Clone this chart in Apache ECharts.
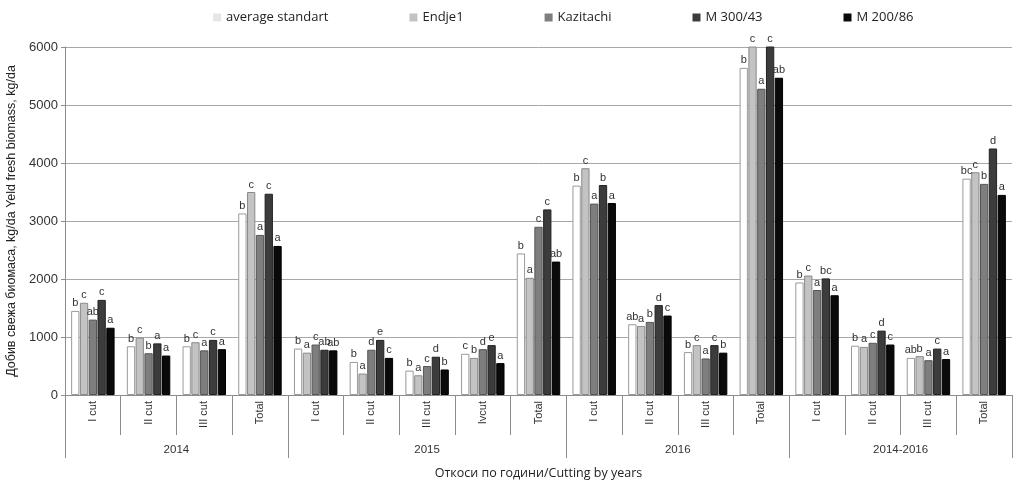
<!DOCTYPE html>
<html>
<head>
<meta charset="utf-8">
<script src="https://cdn.jsdelivr.net/npm/echarts@6/dist/echarts.min.js"></script>
<style>
    html, body { margin: 0; padding: 0; background: #fff; }
    #chart { width: 1022px; height: 482px; }
</style>
</head>
<body>
<div id="chart"></div>
<script>
// категории (откоси) и години
var cuts = ['I cut', 'II cut', 'III cut', 'Total',
    'I cut', 'II cut', 'III cut', 'Ivcut', 'Total',
    'I cut', 'II cut', 'III cut', 'Total',
    'I cut', 'II cut', 'III cut', 'Total'];
var years = ['2014', '2015', '2016', '2014-2016'];
var cutsPerYear = [4, 5, 4, 4];

var seriesNames = ['average standart', 'Endje1', 'Kazitachi', 'M 300/43', 'M 200/86'];

// добив, kg/da
var avgStandart = [1450, 840, 840, 3130, 800, 570, 420, 710, 2440, 3610, 1220, 740, 5640, 1940, 850, 640, 3730];
var endje1 = [1590, 990, 910, 3500, 730, 370, 340, 640, 2020, 3910, 1190, 860, 6030, 2060, 830, 670, 3840];
var kazitachi = [1300, 720, 770, 2760, 870, 780, 500, 790, 2900, 3300, 1260, 630, 5280, 1810, 900, 600, 3640];
var m300 = [1640, 890, 950, 3470, 780, 950, 660, 860, 3200, 3620, 1550, 860, 6110, 2010, 1110, 800, 4250];
var m200 = [1160, 680, 790, 2570, 770, 640, 440, 550, 2300, 3310, 1370, 730, 5470, 1720, 870, 620, 3450];

// буквени означения за достоверност
var lettersAvg = ['b', 'b', 'b', 'b', 'b', 'b', 'b', 'c', 'b', 'b', 'ab', 'b', 'b', 'b', 'b', 'ab', 'bc'];
var lettersEndje1 = ['c', 'c', 'c', 'c', 'a', 'a', 'a', 'b', 'a', 'c', 'a', 'c', 'c', 'c', 'a', 'b', 'c'];
var lettersKazitachi = ['ab', 'b', 'a', 'a', 'c', 'd', 'c', 'd', 'c', 'a', 'b', 'a', 'a', 'a', 'c', 'a', 'b'];
var lettersM300 = ['c', 'a', 'c', 'c', 'ab', 'e', 'd', 'e', 'c', 'b', 'd', 'c', 'c', 'bc', 'd', 'c', 'd'];
var lettersM200 = ['a', 'a', 'a', 'a', 'ab', 'c', 'b', 'a', 'ab', 'a', 'c', 'b', 'ab', 'a', 'c', 'a', 'a'];

var yTicks = { min: 0, max: 6000, interval: 1000 };

(function() {
    var values = [avgStandart, endje1, kazitachi, m300, m200];
    var letters = [lettersAvg, lettersEndje1, lettersKazitachi, lettersM300, lettersM200];
    var fills = ['#ffffff', '#c3c3c3', '#7e7e7e', '#3c3c3c', '#0a0a0a'];
    var borders = ['#9a9a9a', '#8a8a8a', '#555555', '#222222', '#000000'];
    var legendFills = ['#e6e6e6', '#c3c3c3', '#7e7e7e', '#3c3c3c', '#0a0a0a'];
    var axisColor = '#8c8c8c';

    // ос за годините: половин-стъпки, етикет в средата на групата
    var yearAxisData = [];
    var yearBounds = [0];
    var yearCenters = [];
    var pos = 0;
    for (var i = 0; i < cutsPerYear.length; i++) {
        yearCenters.push(pos + cutsPerYear[i]);
        pos += cutsPerYear[i] * 2;
        yearBounds.push(pos);
    }
    for (var k = 0; k <= pos; k++) {
        var idx = yearCenters.indexOf(k);
        yearAxisData.push(idx >= 0 ? years[idx] : '');
    }

    var series = [];
    for (var s = 0; s < values.length; s++) {
        (function(s) {
            series.push({
                type: 'bar',
                name: seriesNames[s],
                data: values[s],
                xAxisIndex: 0,
                barGap: '6%',
                barCategoryGap: '22%',
                itemStyle: {
                    color: fills[s],
                    borderColor: borders[s],
                    borderWidth: 1
                },
                label: {
                    show: true,
                    position: 'top',
                    distance: 2,
                    fontFamily: 'Liberation Sans',
                    fontSize: 11,
                    color: '#333',
                    formatter: function(p) {
                        return letters[s][p.dataIndex];
                    }
                }
            });
        })(s);
    }

    var legendData = [];
    for (var j = 0; j < seriesNames.length; j++) {
        legendData.push({
            name: seriesNames[j],
            icon: 'rect',
            itemStyle: { color: legendFills[j], borderWidth: 0 }
        });
    }

    var chart = echarts.init(document.getElementById('chart'));
    var option = {
        animation: false,
        backgroundColor: '#fff',
        legend: {
            data: legendData,
            top: 6,
            left: 208,
            itemWidth: 8,
            itemHeight: 8,
            itemGap: 81,
            textStyle: {
                fontFamily: 'Open Sans',
                fontSize: 13,
                color: '#222'
            }
        },
        grid: {
            left: 65,
            right: 10,
            top: 47,
            bottom: 87,
            containLabel: false,
            outerBoundsMode: 'none'
        },
        xAxis: [{
            type: 'category',
            data: cuts,
            position: 'bottom',
            axisLine: { show: true, lineStyle: { color: axisColor } },
            axisTick: {
                show: true,
                interval: 0,
                length: 40,
                lineStyle: { color: axisColor }
            },
            axisLabel: {
                interval: 0,
                rotate: 90,
                margin: 6,
                fontFamily: 'Liberation Sans',
                fontSize: 11,
                color: '#333'
            }
        }, {
            type: 'category',
            data: yearAxisData,
            position: 'bottom',
            boundaryGap: false,
            name: 'Откоси по години/Cutting by years',
            nameLocation: 'middle',
            nameGap: 72,
            nameTextStyle: {
                fontFamily: 'Open Sans',
                fontSize: 12.5,
                color: '#222'
            },
            axisLine: { show: false },
            axisTick: {
                show: true,
                length: 63,
                interval: function(index) {
                    return yearBounds.indexOf(index) >= 0;
                },
                lineStyle: { color: '#8d8d8d' }
            },
            axisLabel: {
                interval: 0,
                margin: 49,
                fontFamily: 'Liberation Sans',
                fontSize: 11.5,
                color: '#333'
            },
            splitLine: { show: false }
        }],
        yAxis: {
            type: 'value',
            min: yTicks.min,
            max: yTicks.max,
            interval: yTicks.interval,
            name: 'Добив свежа биомаса, kg/da Yeld fresh biomass, kg/da',
            nameLocation: 'middle',
            nameGap: 30,
            nameTextStyle: {
                fontFamily: 'Liberation Sans',
                fontSize: 12.5,
                color: '#222'
            },
            axisLine: { show: true, lineStyle: { color: axisColor } },
            axisTick: { show: true, length: 4, lineStyle: { color: axisColor } },
            axisLabel: {
                margin: 7,
                fontFamily: 'Liberation Sans',
                fontSize: 13,
                color: '#333',
                formatter: function(v) {
                    return String(v);
                }
            },
            splitLine: { show: true, lineStyle: { color: '#a8a8a8', width: 1 } }
        },
        series: series
    };
    chart.setOption(option);
})();
</script>
</body>
</html>
